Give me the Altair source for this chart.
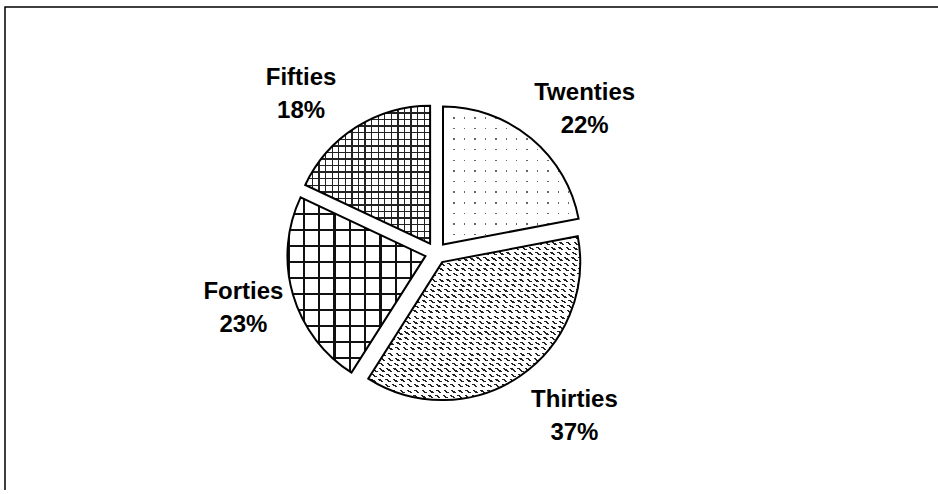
import altair as alt
import pandas as pd

# ---- data ----
categories = ["Twenties", "Thirties", "Forties", "Fifties"]
shares = [22, 37, 23, 18]

df = pd.DataFrame({"cat": categories, "share": shares,
                   "order": list(range(len(categories)))})

# ---- layout / style constants ----
CX, CY = 436, 253        # pie centre (px)
R = 138                  # radius
EXPLODE = 11             # slice explosion distance
LRX, LW, LRY = 136, 62, 198   # label placement
TOP_SHIFT = 9                 # labels above the centre sit slightly closer
FS, LHT = 24, 33              # font size, line height
W, H = 938, 490
CLEAR = "rgba(255,255,255,0)"


def stripes(n, frac, color, bg, x1, y1, x2, y2):
    stops = []
    for k in range(n):
        a = round(k / n, 5)
        b = round((k + frac) / n, 5)
        c = round((k + 1) / n, 5)
        stops += [alt.GradientStop(color=color, offset=a),
                  alt.GradientStop(color=color, offset=b),
                  alt.GradientStop(color=bg, offset=b),
                  alt.GradientStop(color=bg, offset=c)]
    return alt.LinearGradient(gradient="linear", stops=stops,
                              x1=x1, y1=y1, x2=x2, y2=y2)


base = (
    alt.Chart(df)
    .transform_window(cum="sum(share)", sort=[alt.SortField("order")],
                      frame=[None, 0])
    .transform_joinaggregate(total="sum(share)")
    .transform_calculate(t1="2*PI*datum.cum/datum.total")
    .transform_calculate(t0="2*PI*(datum.cum-datum.share)/datum.total")
    .transform_calculate(mid="(datum.t0+datum.t1)/2")
    .transform_calculate(ex=f"{CX}+{EXPLODE}*sin(datum.mid)")
    .transform_calculate(ey=f"{CY}-{EXPLODE}*cos(datum.mid)")
    .transform_calculate(
        lx=f"{CX}+{LRX}*sin(datum.mid)+(sin(datum.mid)>0?{LW}:-{LW})")
    .transform_calculate(
        ly=f"{CY}-{LRY}*cos(datum.mid)-{LHT / 2}"
           f"+(cos(datum.mid)>0?{TOP_SHIFT}:0)")
    .transform_calculate(label="[datum.cat, datum.share + '%']")
)

arc_enc = dict(
    theta=alt.Theta("t0:Q", scale=None, stack=None),
    theta2=alt.Theta2("t1:Q"),
    x=alt.X("ex:Q", scale=None, axis=None),
    y=alt.Y("ey:Q", scale=None, axis=None),
)


def slice_layer(cat, fill):
    return (base.transform_filter(alt.datum.cat == cat)
            .mark_arc(radius=R, fill=fill, stroke=None)
            .encode(**arc_enc))


layers = []
# white base for all slices
layers.append(base.mark_arc(radius=R, fill="white").encode(**arc_enc))

# Twenties: sparse dots (horizontal lines masked by vertical white bands)
layers.append(slice_layer("Twenties", stripes(13, 0.14, "#666", CLEAR, 0, 0, 0, 1)))
layers.append(slice_layer("Twenties", stripes(13, 0.13, CLEAR, "white", 0, 0, 1, 0)))

# Thirties: rows of short diagonal dashes
layers.append(slice_layer("Thirties", stripes(58, 0.34, "#222", CLEAR, 0, 1, 1, 0)))
layers.append(slice_layer("Thirties", stripes(31, 0.6, CLEAR, "white", 0, 0, 0, 1)))

# Forties: coarse grid
layers.append(slice_layer("Forties", stripes(11, 0.13, "#111", CLEAR, 0, 0, 0, 1)))
layers.append(slice_layer("Forties", stripes(9, 0.14, "#111", CLEAR, 0, 0, 1, 0)))

# Fifties: fine grid
layers.append(slice_layer("Fifties", stripes(21, 0.21, "#222", CLEAR, 0, 0, 0, 1)))
layers.append(slice_layer("Fifties", stripes(19, 0.21, "#222", CLEAR, 0, 0, 1, 0)))

# outlines
layers.append(base.mark_arc(radius=R, fill="transparent", stroke="black",
                            strokeWidth=2).encode(**arc_enc))

# labels
layers.append(
    base.mark_text(font="Liberation Sans", fontSize=FS, fontWeight="bold",
                   lineHeight=LHT, align="center", baseline="middle",
                   color="black")
    .encode(x=alt.X("lx:Q", scale=None, axis=None),
            y=alt.Y("ly:Q", scale=None, axis=None),
            text="label:N")
)

# chart frame (left and top edges visible)
frame = (alt.Chart(pd.DataFrame({"f": [0]}))
         .mark_rect(fill="transparent", stroke="black", strokeWidth=1.5)
         .encode(x=alt.value(5), y=alt.value(7),
                 x2=alt.value(W + 200), y2=alt.value(H + 200)))
layers.append(frame)

chart = (alt.layer(*layers)
         .properties(width=W, height=H, autosize="none", padding=0)
         .configure_view(stroke=None))

chart.save("out.html", embed_options={"renderer": "svg", "actions": False})
